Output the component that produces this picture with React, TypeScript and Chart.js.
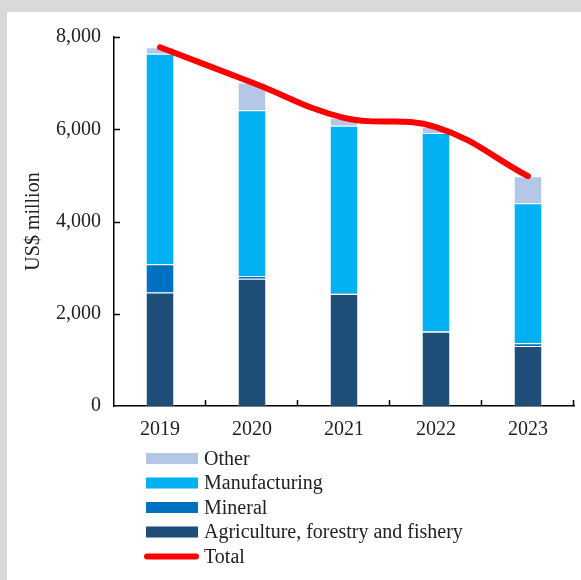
import React, { useEffect, useRef } from "react";
import { Chart, registerables } from "chart.js";

Chart.register(...registerables);

const years = ["2019", "2020", "2021", "2022", "2023"];
const agriculture = [2460, 2760, 2430, 1610, 1300];
const mineral = [614, 57, 20, 10, 58];
const manufacturing = [4561, 3596, 3626, 4300, 3039];
const other = [142, 600, 172, 128, 585];
const total = [7777, 7013, 6248, 6048, 4982];
const yTicks = [0, 2000, 4000, 6000, 8000];

const FONT = "'Liberation Serif', 'Times New Roman', serif";
const TEXT = "#222222";

const innerTicks = {
  id: "innerTicks",
  afterDraw(chart: any) {
    const { ctx, chartArea, scales } = chart;
    const y = scales.y;
    ctx.save();
    ctx.strokeStyle = "#000";
    ctx.lineWidth = 1.5;
    ctx.beginPath();
    for (const v of yTicks) {
      if (v === 0) continue;
      const py = Math.round(y.getPixelForValue(v)) + 0.5;
      ctx.moveTo(chartArea.left, py);
      ctx.lineTo(chartArea.left + 6, py);
    }
    const n = years.length;
    const w = (chartArea.right - chartArea.left) / n;
    for (let i = 1; i <= n; i++) {
      const px = Math.round(chartArea.left + i * w) - 0.5;
      ctx.moveTo(px, chartArea.bottom);
      ctx.lineTo(px, chartArea.bottom - 6);
    }
    ctx.stroke();
    ctx.restore();
  },
};

const listLegend = {
  id: "listLegend",
  afterDraw(chart: any) {
    const { ctx, chartArea } = chart;
    const ds = chart.data.datasets;
    const bars = ds.filter((d: any) => d.type === "bar").slice().reverse();
    const lines = ds.filter((d: any) => d.type === "line");
    const items = [...bars, ...lines];
    const boxX = 139;
    const boxW = 52;
    const textX = 197;
    let cy = chartArea.bottom + 52.5;
    ctx.save();
    ctx.font = `20px ${FONT}`;
    ctx.textBaseline = "middle";
    ctx.textAlign = "left";
    for (const it of items) {
      if (it.type === "bar") {
        ctx.fillStyle = it.backgroundColor;
        ctx.fillRect(boxX, cy - 5.5, boxW, 11);
      } else {
        ctx.strokeStyle = it.borderColor;
        ctx.lineWidth = 6;
        ctx.lineCap = "round";
        ctx.beginPath();
        ctx.moveTo(boxX + 1, cy);
        ctx.lineTo(boxX + boxW - 2, cy);
        ctx.stroke();
      }
      ctx.fillStyle = TEXT;
      ctx.fillText(it.label, textX, cy + 1);
      cy += 24.5;
    }
    ctx.restore();
  },
};

export default function App() {
  const ref = useRef<HTMLCanvasElement | null>(null);

  useEffect(() => {
    document.body.style.margin = "0";
    const canvas = ref.current;
    if (!canvas) return;
    const barCommon = {
      type: "bar" as const,
      borderWidth: 1,
      borderColor: "rgba(255,255,255,0.35)",
      barPercentage: 0.31,
      categoryPercentage: 1,
      order: 1,
    };
    const chart = new Chart(canvas, {
      type: "bar",
      data: {
        labels: years,
        datasets: [
          { ...barCommon, label: "Agriculture, forestry and fishery", data: agriculture, backgroundColor: "#1f4e79" },
          { ...barCommon, label: "Mineral", data: mineral, backgroundColor: "#0070c0" },
          { ...barCommon, label: "Manufacturing", data: manufacturing, backgroundColor: "#00b0f0" },
          { ...barCommon, label: "Other", data: other, backgroundColor: "#b4c7e7" },
          {
            type: "line" as const,
            label: "Total",
            data: total,
            borderColor: "#ff0000",
            backgroundColor: "#ff0000",
            borderWidth: 6,
            borderCapStyle: "round",
            borderJoinStyle: "round",
            tension: 0.4,
            pointRadius: 0,
            fill: false,
            order: 0,
          } as any,
        ],
      },
      options: {
        responsive: false,
        animation: false,
        devicePixelRatio: 1,
        layout: { padding: { left: 0, right: 7, top: 21, bottom: 0 } },
        plugins: {
          legend: { display: false },
          tooltip: { enabled: false },
        },
        scales: {
          x: {
            stacked: true,
            grid: { display: false, drawTicks: false },
            border: { display: true, color: "#000", width: 1.5 },
            ticks: {
              padding: 12,
              color: TEXT,
              font: { family: FONT, size: 20 },
            },
            afterFit: (s: any) => {
              s.height = 174;
            },
          },
          y: {
            stacked: true,
            min: 0,
            max: 8000,
            grid: { display: false, drawTicks: false },
            border: { display: true, color: "#000", width: 1.5 },
            ticks: {
              stepSize: 2000,
              padding: 13,
              color: TEXT,
              font: { family: FONT, size: 20 },
              callback: (v: any) => Number(v).toLocaleString("en-US"),
            },
            title: {
              display: true,
              text: "US$ million",
              color: TEXT,
              font: { family: FONT, size: 20 },
              padding: { top: 15, bottom: 0 },
            },
            afterFit: (s: any) => {
              s.width = 107;
            },
          },
        },
      },
      plugins: [innerTicks, listLegend],
    });
    return () => chart.destroy();
  }, []);

  return (
    <div style={{ position: "relative", width: 581, height: 580, background: "#d9d9d9", overflow: "hidden" }}>
      <div style={{ position: "absolute", left: 7, top: 12, width: 574, height: 568, background: "#ffffff" }}>
        <canvas ref={ref} width={574} height={568} style={{ display: "block", width: 574, height: 568 }} />
      </div>
    </div>
  );
}
